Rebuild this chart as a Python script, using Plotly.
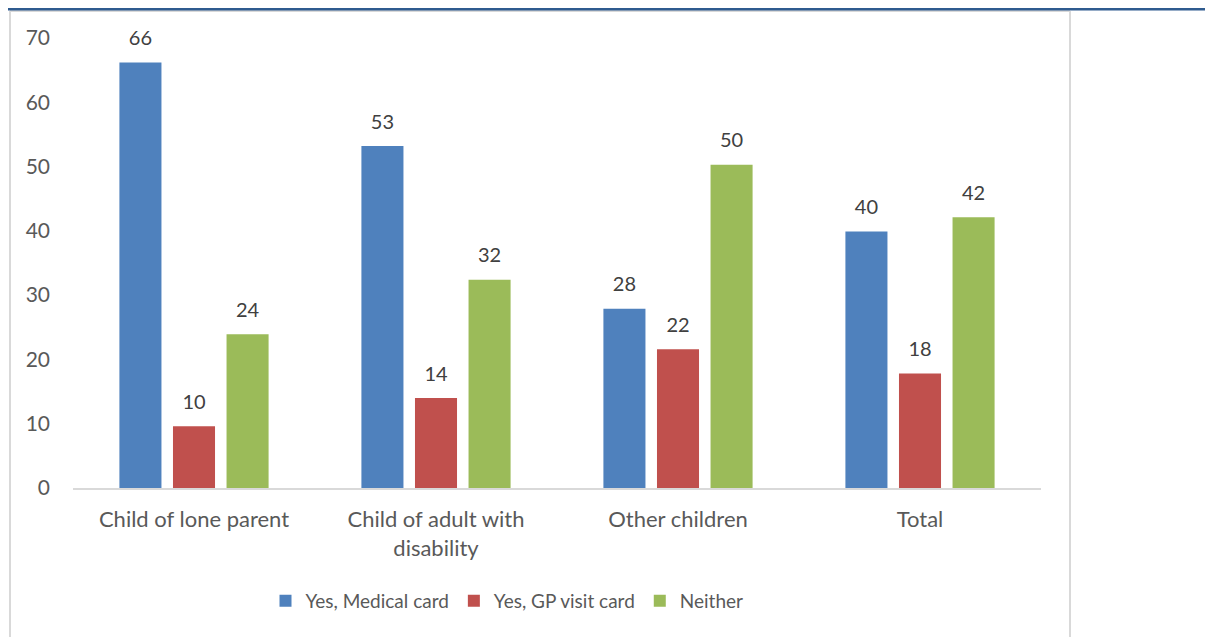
import plotly.graph_objs as go

CATEGORIES = ["Child of lone parent", "Child of adult with<br>disability", "Other children", "Total"]
MEDICAL_CARD = [66.2, 53.2, 27.9, 39.9]
GP_VISIT_CARD = [9.6, 14.0, 21.6, 17.8]
NEITHER = [23.9, 32.4, 50.3, 42.1]

SERIES = [
    ("Yes, Medical card", MEDICAL_CARD, "#4f81bd"),
    ("Yes, GP visit card", GP_VISIT_CARD, "#c0504d"),
    ("Neither", NEITHER, "#9bbb59"),
]

FONT = "Lato, Open Sans, sans-serif"
GREY_TEXT = "#595959"

fig = go.Figure()
for i, (name, values, color) in enumerate(SERIES):
    fig.add_trace(
        go.Bar(
            x=CATEGORIES,
            y=values,
            name=name,
            offsetgroup=str(i),
            marker=dict(color=color, line=dict(width=0)),
        )
    )
# value labels, placed in the same groups as the bars
for i, (name, values, color) in enumerate(SERIES):
    fig.add_trace(
        go.Scatter(
            x=CATEGORIES,
            y=values,
            mode="markers+text",
            offsetgroup=str(i),
            text=[f"{v:.0f}" for v in values],
            textposition="top center",
            textfont=dict(size=20, color="#404040", family=FONT),
            marker=dict(size=18, opacity=0),
            showlegend=False,
            hoverinfo="skip",
            cliponaxis=False,
        )
    )

# the page body adds an 8px offset; plot area in the window: x 73..1041, y 38..488
OFF = 8
L, T = 73 - OFF, 38 - OFF
R, B = 1213 - (1041 - OFF), 637 - (488 - OFF)
W, H = 1213 - L - R, 637 - T - B


def px_x(p):
    return (p - OFF - L) / W


def px_y(p):
    return (637 - B - (p - OFF)) / H


shapes = [
    # outer grey frame
    dict(type="line", xref="paper", yref="paper", x0=px_x(10), x1=px_x(10), y0=px_y(11), y1=px_y(660),
         line=dict(color="#d9d9d9", width=2)),
    dict(type="line", xref="paper", yref="paper", x0=px_x(10), x1=px_x(1070), y0=px_y(11), y1=px_y(11),
         line=dict(color="#d9d9d9", width=2)),
    dict(type="line", xref="paper", yref="paper", x0=px_x(1070), x1=px_x(1070), y0=px_y(11), y1=px_y(660),
         line=dict(color="#d9d9d9", width=2)),
    # blue top rule
    dict(type="line", xref="paper", yref="paper", x0=px_x(6), x1=px_x(1230), y0=px_y(9), y1=px_y(9),
         line=dict(color="#2f5b8f", width=3)),
]

fig.update_layout(
    width=1213,
    height=637,
    barmode="group",
    scattermode="group",
    bargap=0.336,
    bargroupgap=0.215,
    scattergap=0.336,
    paper_bgcolor="white",
    plot_bgcolor="white",
    font=dict(family=FONT, size=20, color=GREY_TEXT),
    margin=dict(l=L, r=R, t=T, b=B, autoexpand=False),
    legend=dict(
        orientation="h",
        x=px_x(507),
        xanchor="center",
        y=px_y(601),
        yanchor="middle",
        font=dict(size=19, color=GREY_TEXT),
        itemwidth=30,
        traceorder="normal",
    ),
    xaxis=dict(
        showline=True,
        linecolor="#d9d9d9",
        linewidth=2,
        ticks="",
        ticklabelstandoff=11,
        tickfont=dict(size=22, color=GREY_TEXT),
    ),
    yaxis=dict(
        range=[0, 70],
        dtick=10,
        showgrid=False,
        zeroline=False,
        showline=False,
        ticks="",
        ticklabelstandoff=22,
        tickfont=dict(size=21, color=GREY_TEXT),
    ),
    shapes=shapes,
)

fig.write_html("out.html")
